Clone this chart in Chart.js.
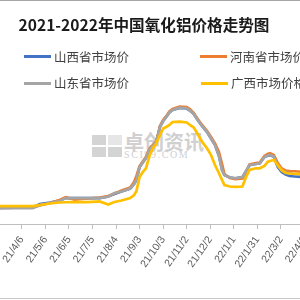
<!DOCTYPE html>
<html>
<head>
<meta charset="utf-8">
<script src="https://cdn.jsdelivr.net/npm/chart.js@4.4.1/dist/chart.umd.min.js"></script>
<style>
  html, body { margin: 0; padding: 0; background: #fff; }
  #frame { position: relative; width: 300px; height: 300px; overflow: hidden; background: #fff;
           font-family: "Noto Sans CJK SC", "Noto Sans", sans-serif; }
  #topline { position: absolute; left: 0; top: 0; width: 300px; height: 1px; background: #a6a6a6; }
  #bottomline { position: absolute; left: 0; top: 298px; width: 300px; height: 1px; background: #c8c8c8; }
  #title { position: absolute; left: 0; top: 13px; width: 288px; text-align: center;
           font-size: 15.6px; font-weight: bold; line-height: 22px; color: #1a1a1a; white-space: nowrap; }
  .leg { position: absolute; height: 16px; white-space: nowrap; }
  .leg i { position: absolute; left: 0; top: 6.5px; width: 27px; height: 3px; }
  .leg span { position: absolute; left: 30px; top: 0; font-size: 12.5px; line-height: 16px; color: #404040; }
  #wm { position: absolute; left: 92px; top: 135px; width: 120px; height: 26px; }
  #wm b { position: absolute; width: 14px; height: 10px; background: #d4d4d4; }
  #wm .t { position: absolute; left: 32px; top: -5px; font-size: 20px; font-weight: bold; color: #d0d0d0; line-height: 24px; }
  #wm .s { position: absolute; left: 32px; top: 15px; font-family: "Liberation Serif", serif; font-size: 10px;
           letter-spacing: 1.6px; color: #d0d0d0; line-height: 10px; }
  #wrap { position: absolute; left: -30px; top: 0; width: 360px; height: 300px; }
</style>
</head>
<body>
<div id="frame">
  <div id="wm">
    <b style="left:0;top:0"></b>
    <b style="left:16px;top:0;background:#e6e6e6"></b>
    <b style="left:0;top:12px"></b>
    <b style="left:16px;top:12px"></b>
    <div class="t">卓创资讯</div>
    <div class="s">SCI99.COM</div>
  </div>
  <div id="wrap"><canvas id="myChart" width="360" height="300" style="width:360px;height:300px"></canvas></div>
  <div id="topline"></div>
  <div id="bottomline"></div>
  <div id="title">2021-2022年中国氧化铝价格走势图</div>
  <div id="legend"></div>
</div>
<script>
const dates = ['2021/3/8','2021/4/20','2021/4/29','2021/5/12','2021/5/24','2021/6/1','2021/6/12','2021/6/29','2021/7/14','2021/7/25',
  '2021/8/2','2021/8/11','2021/8/22','2021/8/27','2021/8/30','2021/9/3','2021/9/7','2021/9/11','2021/9/16','2021/9/20',
  '2021/9/24','2021/9/26','2021/9/29','2021/10/3','2021/10/8','2021/10/11','2021/10/15','2021/10/24','2021/11/2','2021/11/6',
  '2021/11/11','2021/11/16','2021/11/21','2021/11/28','2021/12/3','2021/12/8','2021/12/13','2021/12/17','2021/12/20','2021/12/27',
  '2022/1/3','2022/1/12','2022/1/16','2022/1/21','2022/1/29','2022/2/3','2022/2/9','2022/2/13','2022/2/16','2022/2/21',
  '2022/2/26','2022/3/3','2022/3/8','2022/3/13','2022/3/20','2022/3/27'];

const shanxi = [2360,2370,2440,2470,2510,2560,2560,2560,2560,2590,
  2640,2690,2750,2840,2920,3180,3270,3360,3540,3600,
  3680,3780,3990,4100,4205,4270,4320,4360,4350,4310,
  4240,4120,4010,3880,3750,3625,3410,3130,3020,2970,
  2955,2980,3080,3215,3240,3255,3380,3405,3415,3385,
  3180,3080,3030,3000,2990,2980];

const henan = [2360,2370,2410,2460,2520,2575,2530,2550,2570,2600,
  2650,2710,2770,2880,3000,3200,3290,3380,3560,3620,
  3700,3800,4000,4120,4220,4290,4340,4385,4380,4340,
  4260,4140,4030,3900,3780,3650,3480,3240,3040,2960,
  2940,2950,3040,3230,3260,3270,3400,3440,3455,3420,
  3260,3150,3110,3100,3095,3085];

const shandong = [2360,2360,2420,2460,2500,2560,2560,2560,2560,2585,
  2660,2690,2750,2840,2920,3180,3270,3360,3540,3600,
  3680,3780,3980,4100,4200,4270,4320,4365,4355,4310,
  4240,4120,4010,3880,3750,3620,3400,3120,3020,2970,
  2955,2980,3080,3220,3240,3255,3380,3410,3420,3390,
  3200,3110,3070,3055,3035,3020];

const guangxi = [2400,2400,2420,2450,2470,2475,2480,2480,2490,2430,
  2480,2510,2560,2620,2700,2980,3080,3150,3420,3560,
  3640,3720,3820,3950,3990,4020,4080,4085,4070,4020,
  3970,3840,3700,3550,3420,3220,3060,2920,2820,2790,
  2785,2790,2960,3120,3155,3155,3200,3280,3300,3320,
  3220,3115,3060,3050,3045,3040];

const seriesNames = ['山西省市场价', '河南省市场价', '山东省市场价', '广西市场价格'];
const seriesColors = ['#4472C4', '#ED7D31', '#A5A5A5', '#FFC000'];
const seriesData = [shanxi, henan, shandong, guangxi];

// x axis counts days from 2021/3/7, ticks every 30 days
const DAY0 = Date.UTC(2021, 2, 7);
function toDay(s) {
  const p = s.split('/').map(Number);
  return Math.round((Date.UTC(p[0], p[1] - 1, p[2]) - DAY0) / 864e5);
}
function tickLabel(v) {
  const d = new Date(DAY0 + v * 864e5);
  return String(d.getUTCFullYear()).slice(2) + '/' + (d.getUTCMonth() + 1) + '/' + d.getUTCDate();
}

const legendPos = [[24, 48.5], [200, 48.5], [24, 75], [201, 75]];
const legendEl = document.getElementById('legend');
seriesNames.forEach((name, i) => {
  const div = document.createElement('div');
  div.className = 'leg';
  div.style.left = legendPos[i][0] + 'px';
  div.style.top = legendPos[i][1] + 'px';
  div.innerHTML = '<i style="background:' + seriesColors[i] + '"></i><span>' + name + '</span>';
  legendEl.appendChild(div);
});

const days = dates.map(toDay);

new Chart(document.getElementById('myChart'), {
  type: 'line',
  data: {
    datasets: seriesNames.map((name, i) => ({
      label: name,
      data: seriesData[i].map((v, j) => ({ x: days[j], y: v })),
      borderColor: seriesColors[i],
      backgroundColor: seriesColors[i],
      borderWidth: 2.75,
      pointRadius: 0,
      tension: 0,
      order: 4 - i
    }))
  },
  options: {
    responsive: false,
    animation: false,
    layout: { padding: { top: 100, left: 0, right: 0, bottom: 0 } },
    plugins: {
      legend: { display: false },
      title: { display: false },
      tooltip: { enabled: false }
    },
    scales: {
      x: {
        type: 'linear',
        min: -36,
        max: 422.5,
        grid: { drawOnChartArea: false, tickLength: 5, color: '#bfbfbf' },
        border: { color: '#bfbfbf', width: 1 },
        ticks: {
          stepSize: 30,
          includeBounds: false,
          autoSkip: false,
          minRotation: 55,
          maxRotation: 55,
          padding: 5,
          color: '#595959',
          font: { family: 'Liberation Sans', size: 10.5 },
          callback: v => tickLabel(v)
        },
        afterFit: s => { s.height = 76; s.paddingLeft = 0; s.paddingRight = 0; }
      },
      y: { display: false, min: 2040, max: 4520 }
    }
  }
});
</script>
</body>
</html>
